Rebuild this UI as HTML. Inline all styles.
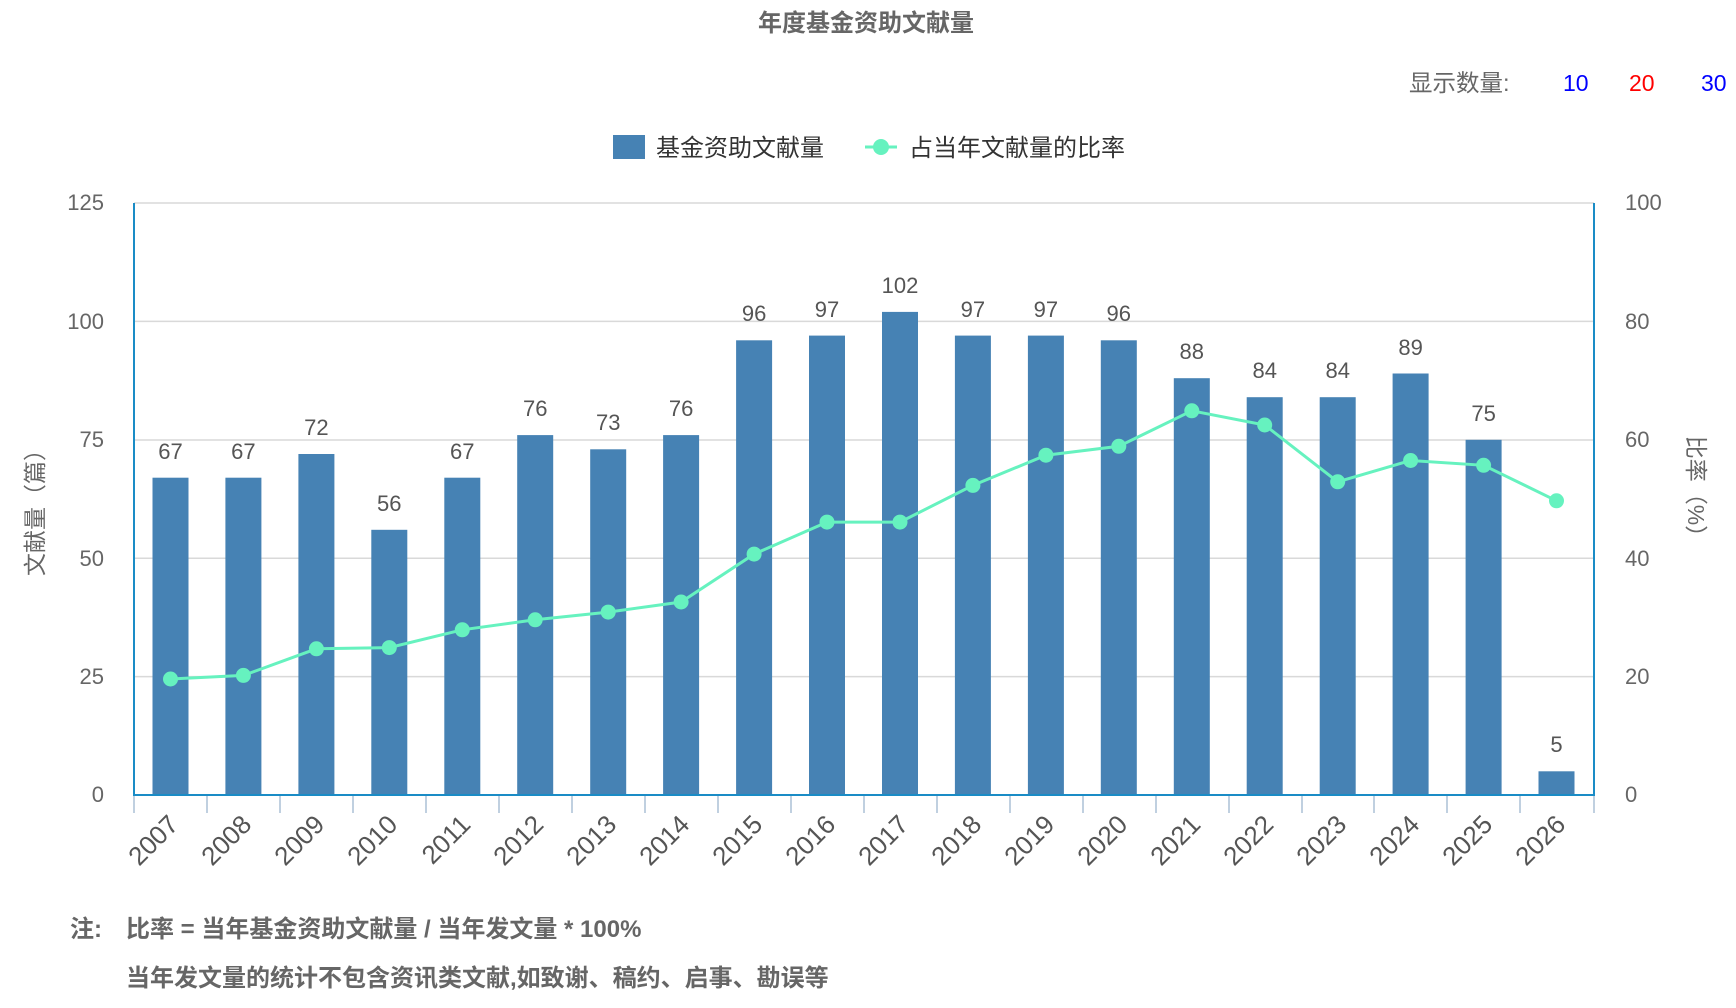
<!DOCTYPE html>
<html><head><meta charset="utf-8"><style>
html,body{margin:0;padding:0;background:#fff;}
svg{display:block;}
text{font-family:"Liberation Sans","Noto Sans CJK SC",sans-serif;}
</style></head><body>
<svg width="1736" height="1008" viewBox="0 0 1736 1008" xmlns="http://www.w3.org/2000/svg">
<text x="866" y="31" text-anchor="middle" font-size="24" font-weight="bold" fill="#666">年度基金资助文献量</text>
<text x="1417" y="91" font-size="23.5" fill="#666" transform="translate(-8,0)">显示数量:</text>
<text x="1563" y="91" font-size="23" fill="#0000ff">10</text>
<text x="1629" y="91" font-size="23" fill="#ff0000">20</text>
<text x="1701" y="91" font-size="23" fill="#0000ff">30</text>
<rect x="613" y="135" width="32" height="24" fill="#4682b4"/>
<text x="656" y="156" font-size="24" fill="#333">基金资助文献量</text>
<line x1="865" y1="147" x2="897" y2="147" stroke="#66f2bf" stroke-width="3"/>
<circle cx="881" cy="147" r="8" fill="#66f2bf"/>
<text x="909" y="156" font-size="24" fill="#333">占当年文献量的比率</text>
<g stroke="#d9d9d9" stroke-width="1.5">
<line x1="134" y1="203" x2="1594" y2="203"/>
<line x1="134" y1="321.4" x2="1594" y2="321.4"/>
<line x1="134" y1="440" x2="1594" y2="440"/>
<line x1="134" y1="558.2" x2="1594" y2="558.2"/>
<line x1="134" y1="676.6" x2="1594" y2="676.6"/>
</g>
<g font-size="22" fill="#666" text-anchor="end">
<text x="104" y="210">125</text><text x="104" y="329">100</text><text x="104" y="447">75</text><text x="104" y="566">50</text><text x="104" y="684">25</text><text x="104" y="802">0</text>
</g>
<g font-size="22" fill="#666">
<text x="1625" y="210">100</text><text x="1625" y="329">80</text><text x="1625" y="447">60</text><text x="1625" y="566">40</text><text x="1625" y="684">20</text><text x="1625" y="802">0</text>
</g>
<text transform="translate(43,507) rotate(-90)" text-anchor="middle" font-size="23" fill="#666">文献量（篇）</text>
<text transform="translate(1688,492) rotate(90)" text-anchor="middle" font-size="23" fill="#666">比率（%）</text>
<g fill="#4682b4">
<rect x="152.5" y="477.7" width="36" height="317.3"/>
<rect x="225.4" y="477.7" width="36" height="317.3"/>
<rect x="298.4" y="454" width="36" height="341"/>
<rect x="371.3" y="529.8" width="36" height="265.2"/>
<rect x="444.3" y="477.7" width="36" height="317.3"/>
<rect x="517.2" y="435.1" width="36" height="359.9"/>
<rect x="590.2" y="449.3" width="36" height="345.7"/>
<rect x="663.1" y="435.1" width="36" height="359.9"/>
<rect x="736.1" y="340.3" width="36" height="454.7"/>
<rect x="809" y="335.6" width="36" height="459.4"/>
<rect x="882" y="311.9" width="36" height="483.1"/>
<rect x="954.9" y="335.6" width="36" height="459.4"/>
<rect x="1027.9" y="335.6" width="36" height="459.4"/>
<rect x="1100.8" y="340.3" width="36" height="454.7"/>
<rect x="1173.8" y="378.2" width="36" height="416.8"/>
<rect x="1246.7" y="397.2" width="36" height="397.8"/>
<rect x="1319.7" y="397.2" width="36" height="397.8"/>
<rect x="1392.6" y="373.5" width="36" height="421.5"/>
<rect x="1465.6" y="439.8" width="36" height="355.2"/>
<rect x="1538.5" y="771.3" width="36" height="23.7"/>
</g>
<g font-size="22" fill="#555" text-anchor="middle">
<text x="170.5" y="459">67</text><text x="243.4" y="459">67</text><text x="316.4" y="435">72</text><text x="389.3" y="511">56</text><text x="462.3" y="459">67</text><text x="535.2" y="416">76</text><text x="608.2" y="430">73</text><text x="681.1" y="416">76</text><text x="754.1" y="321">96</text><text x="827" y="317">97</text><text x="900" y="293">102</text><text x="972.9" y="317">97</text><text x="1045.9" y="317">97</text><text x="1118.8" y="321">96</text><text x="1191.8" y="359">88</text><text x="1264.7" y="378">84</text><text x="1337.7" y="378">84</text><text x="1410.6" y="355">89</text><text x="1483.6" y="421">75</text><text x="1556.5" y="752">5</text>
</g>
<polyline fill="none" stroke="#66f2bf" stroke-width="3" points="170.5,679 243.4,675.4 316.4,648.8 389.3,647.6 462.3,629.8 535.2,619.8 608.2,612.1 681.1,602 754.1,554.1 827,522.1 900,522.1 972.9,485.4 1045.9,455.2 1118.8,446.3 1191.8,410.8 1264.7,425 1337.7,481.8 1410.6,460.5 1483.6,465.3 1556.5,500.8"/>
<g fill="#66f2bf">
<circle cx="170.5" cy="679" r="7.5"/><circle cx="243.4" cy="675.4" r="7.5"/><circle cx="316.4" cy="648.8" r="7.5"/><circle cx="389.3" cy="647.6" r="7.5"/><circle cx="462.3" cy="629.8" r="7.5"/><circle cx="535.2" cy="619.8" r="7.5"/><circle cx="608.2" cy="612.1" r="7.5"/><circle cx="681.1" cy="602" r="7.5"/><circle cx="754.1" cy="554.1" r="7.5"/><circle cx="827" cy="522.1" r="7.5"/><circle cx="900" cy="522.1" r="7.5"/><circle cx="972.9" cy="485.4" r="7.5"/><circle cx="1045.9" cy="455.2" r="7.5"/><circle cx="1118.8" cy="446.3" r="7.5"/><circle cx="1191.8" cy="410.8" r="7.5"/><circle cx="1264.7" cy="425" r="7.5"/><circle cx="1337.7" cy="481.8" r="7.5"/><circle cx="1410.6" cy="460.5" r="7.5"/><circle cx="1483.6" cy="465.3" r="7.5"/><circle cx="1556.5" cy="500.8" r="7.5"/>
</g>
<g stroke="#c0d0e0" stroke-width="2">
<line x1="134" y1="795" x2="134" y2="813"/><line x1="207" y1="795" x2="207" y2="813"/><line x1="280" y1="795" x2="280" y2="813"/><line x1="353" y1="795" x2="353" y2="813"/><line x1="426" y1="795" x2="426" y2="813"/><line x1="499" y1="795" x2="499" y2="813"/><line x1="572" y1="795" x2="572" y2="813"/><line x1="645" y1="795" x2="645" y2="813"/><line x1="718" y1="795" x2="718" y2="813"/><line x1="791" y1="795" x2="791" y2="813"/><line x1="864" y1="795" x2="864" y2="813"/><line x1="937" y1="795" x2="937" y2="813"/><line x1="1010" y1="795" x2="1010" y2="813"/><line x1="1083" y1="795" x2="1083" y2="813"/><line x1="1156" y1="795" x2="1156" y2="813"/><line x1="1229" y1="795" x2="1229" y2="813"/><line x1="1302" y1="795" x2="1302" y2="813"/><line x1="1374" y1="795" x2="1374" y2="813"/><line x1="1447" y1="795" x2="1447" y2="813"/><line x1="1520" y1="795" x2="1520" y2="813"/><line x1="1594" y1="795" x2="1594" y2="813"/>
</g>
<g stroke="#1a8cc6" stroke-width="2">
<line x1="134" y1="203" x2="134" y2="796"/>
<line x1="1594" y1="203" x2="1594" y2="796"/>
<line x1="133" y1="795" x2="1595" y2="795"/>
</g>
<g font-size="26" fill="#555" text-anchor="end">
<text transform="translate(180,826) rotate(-45)">2007</text><text transform="translate(253,826) rotate(-45)">2008</text><text transform="translate(326,826) rotate(-45)">2009</text><text transform="translate(399,826) rotate(-45)">2010</text><text transform="translate(472,826) rotate(-45)">2011</text><text transform="translate(545,826) rotate(-45)">2012</text><text transform="translate(618,826) rotate(-45)">2013</text><text transform="translate(691,826) rotate(-45)">2014</text><text transform="translate(764,826) rotate(-45)">2015</text><text transform="translate(837,826) rotate(-45)">2016</text><text transform="translate(910,826) rotate(-45)">2017</text><text transform="translate(983,826) rotate(-45)">2018</text><text transform="translate(1056,826) rotate(-45)">2019</text><text transform="translate(1129,826) rotate(-45)">2020</text><text transform="translate(1202,826) rotate(-45)">2021</text><text transform="translate(1275,826) rotate(-45)">2022</text><text transform="translate(1348,826) rotate(-45)">2023</text><text transform="translate(1421,826) rotate(-45)">2024</text><text transform="translate(1494,826) rotate(-45)">2025</text><text transform="translate(1567,826) rotate(-45)">2026</text>
</g>
<text x="70" y="937" font-size="24" font-weight="bold" fill="#666">注:</text>
<text x="126" y="937" font-size="24" font-weight="bold" fill="#666">比率 = 当年基金资助文献量 / 当年发文量 * 100%</text>
<text x="126" y="986" font-size="24" font-weight="bold" fill="#666">当年发文量的统计不包含资讯类文献,如致谢、稿约、启事、勘误等</text>
</svg>
</body></html>
